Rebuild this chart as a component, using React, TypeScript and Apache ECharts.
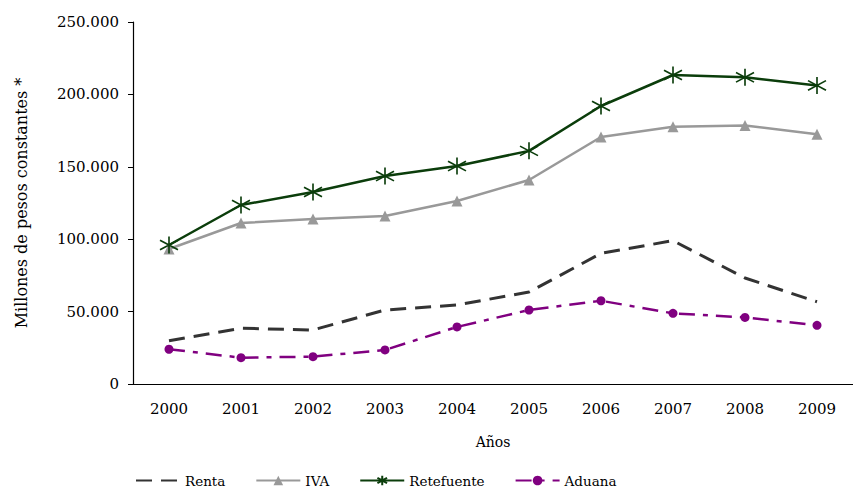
import React, { useEffect, useRef } from "react";
import * as echarts from "echarts";

const years = ["2000", "2001", "2002", "2003", "2004", "2005", "2006", "2007", "2008", "2009"];
const renta = [29900, 38500, 37300, 51100, 54600, 63500, 90200, 99000, 73200, 56800];
const iva = [93200, 111200, 114000, 116000, 126400, 140900, 170600, 177700, 178600, 172400];
const retefuente = [96000, 123600, 132600, 143600, 150500, 161000, 192000, 213400, 211800, 206200];
const aduana = [24000, 18200, 18900, 23500, 39400, 51100, 57500, 48800, 46000, 40500];

const FONT = "'DejaVu Serif', serif";
const STAR = "path://M8,0L8,16M0,3.5L16,12.5M0,12.5L16,3.5";

function fmt(v: number) {
  return v === 0 ? "0" : String(v).replace(/\B(?=(\d{3})+(?!\d))/g, ".");
}

export default function App() {
  const ref = useRef<HTMLDivElement>(null);
  useEffect(() => {
    const chart = echarts.init(ref.current!, null, { renderer: "svg" });
    chart.setOption({
      animation: false,
      textStyle: { fontFamily: FONT },
      grid: { left: 133, top: 22, bottom: 104, right: -8 },
      legend: {
        left: 135,
        top: 473,
        padding: 0,
        itemWidth: 44,
        itemHeight: 12,
        itemGap: 30,
        textStyle: { fontFamily: FONT, fontSize: 13.5, lineHeight: 15, color: "#000" },
        data: [
          { name: "Renta", itemStyle: { opacity: 0 } },
          "IVA",
          "Retefuente",
          "Aduana",
        ],
      },
      xAxis: {
        type: "category",
        data: years,
        name: "Años",
        nameLocation: "middle",
        nameGap: 51,
        nameTextStyle: { fontFamily: FONT, fontSize: 14, color: "#000" },
        axisLine: { lineStyle: { color: "#000", width: 1.2 } },
        axisTick: { length: 5, lineStyle: { color: "#000" } },
        axisLabel: { fontFamily: FONT, fontSize: 15, color: "#000", margin: 17 },
      },
      yAxis: {
        type: "value",
        min: 0,
        max: 250000,
        interval: 50000,
        name: "Millones de pesos constantes *",
        nameLocation: "middle",
        nameGap: 104,
        nameTextStyle: { fontFamily: FONT, fontSize: 16, color: "#000" },
        axisLine: { show: true, lineStyle: { color: "#000", width: 1.2 } },
        axisTick: { show: true, length: 5, lineStyle: { color: "#000" } },
        splitLine: { show: false },
        axisLabel: { fontFamily: FONT, fontSize: 15, color: "#000", margin: 14, formatter: fmt },
      },
      series: [
        {
          name: "Renta",
          type: "line",
          data: renta,
          symbol: "none",
          lineStyle: { color: "#333333", width: 3, type: [16, 9] },
          itemStyle: { color: "#333333" },
        },
        {
          name: "IVA",
          type: "line",
          data: iva,
          symbol: "triangle",
          symbolSize: 11,
          lineStyle: { color: "#999999", width: 2.5 },
          itemStyle: { color: "#999999" },
        },
        {
          name: "Retefuente",
          type: "line",
          data: retefuente,
          symbol: STAR,
          symbolSize: [18, 17],
          lineStyle: { color: "#0b3d0b", width: 2.5 },
          itemStyle: { color: "#0b3d0b", borderColor: "#0b3d0b", borderWidth: 1.6 },
        },
        {
          name: "Aduana",
          type: "line",
          data: aduana,
          symbol: "circle",
          symbolSize: 9,
          lineStyle: { color: "#800080", width: 2.5, type: [16, 8, 5, 8] },
          itemStyle: { color: "#800080" },
        },
      ],
    });
    return () => chart.dispose();
  }, []);
  return (
    <div
      ref={ref}
      style={{ position: "fixed", left: 0, top: 0, width: 853, height: 488, background: "#fff" }}
    />
  );
}
